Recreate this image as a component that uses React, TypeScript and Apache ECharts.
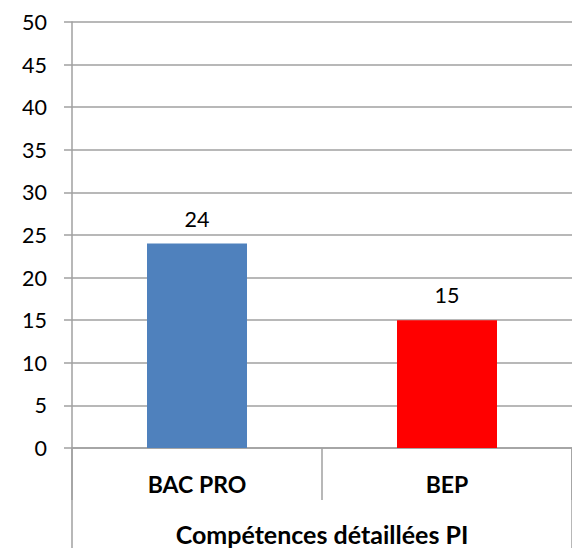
import React, { useEffect, useRef } from "react";
import * as echarts from "echarts";

const categories = ["BAC PRO", "BEP"];
const values = [24, 15];
const barColors = ["#4F81BD", "#FF0000"];
const axisTitle = "Compétences détaillées PI";
const yMin = 0;
const yMax = 50;
const yStep = 5;

const FONT = "Lato, 'Liberation Sans', sans-serif";
const GRID_COLOR = "#A0A0A0";

export default function App() {
  const ref = useRef<HTMLDivElement>(null);
  useEffect(() => {
    if (!ref.current) return;
    const chart = echarts.init(ref.current, undefined, { renderer: "svg" });
    chart.setOption({
      animation: false,
      backgroundColor: "#ffffff",
      grid: { left: 72, top: 22, width: 510, height: 429, containLabel: false },
      xAxis: [
        {
          type: "category",
          data: categories,
          position: "bottom",
          axisLine: { show: true, lineStyle: { color: GRID_COLOR, width: 1.5 } },
          axisTick: {
            show: true,
            interval: 0,
            length: 52,
            lineStyle: { color: GRID_COLOR, width: 1.5 },
          },
          axisLabel: {
            show: true,
            interval: 0,
            margin: 24,
            color: "#000",
            fontFamily: FONT,
            fontSize: 23,
            fontWeight: "bold",
          },
          name: axisTitle,
          nameLocation: "middle",
          nameGap: 73,
          nameTextStyle: {
            color: "#000",
            fontFamily: FONT,
            fontSize: 25,
            fontWeight: "bold",
          },
        },
        {
          type: "category",
          data: categories,
          position: "bottom",
          axisLine: { show: false },
          axisTick: {
            show: true,
            interval: (index: number) => index === 0,
            length: 100,
            lineStyle: { color: GRID_COLOR, width: 1.5 },
          },
          axisLabel: { show: false },
        },
      ],
      yAxis: {
        type: "value",
        min: yMin,
        max: yMax,
        interval: yStep,
        axisLine: { show: true, lineStyle: { color: GRID_COLOR, width: 1.5 } },
        axisTick: { show: true, length: 8, lineStyle: { color: GRID_COLOR, width: 1.5 } },
        axisLabel: {
          margin: 25,
          color: "#000",
          fontFamily: FONT,
          fontSize: 21.5,
        },
        splitLine: { show: true, lineStyle: { color: GRID_COLOR, width: 1.5 } },
      },
      series: [
        {
          type: "bar",
          xAxisIndex: 0,
          barWidth: "40%",
          data: values.map((v, i) => ({ value: v, itemStyle: { color: barColors[i] } })),
          label: {
            show: true,
            position: "top",
            distance: 14,
            color: "#000",
            fontFamily: FONT,
            fontSize: 21.5,
          },
        },
      ],
    });
    return () => chart.dispose();
  }, []);
  return (
    <div
      ref={ref}
      style={{ position: "fixed", left: 0, top: 0, width: 572, height: 551 }}
    />
  );
}
